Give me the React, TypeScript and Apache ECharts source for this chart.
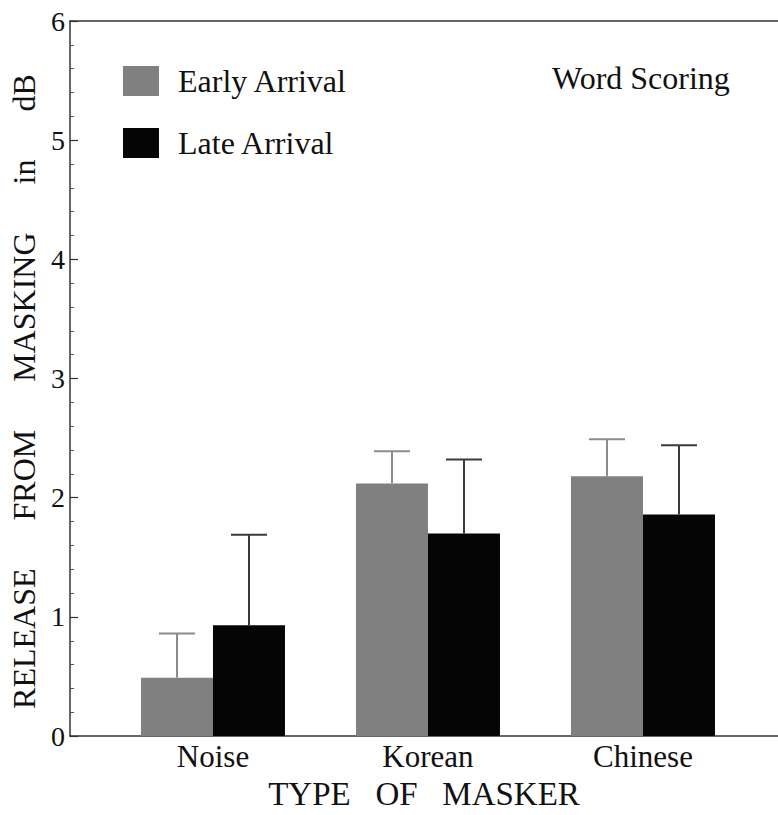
import React, { useEffect, useRef } from "react";
import * as echarts from "echarts";

const categories = ["Noise", "Korean", "Chinese"];
const categoryPositions = [1, 2, 3];
const earlyMeans = [0.49, 2.12, 2.18];
const earlyErrors = [0.37, 0.27, 0.31];
const lateMeans = [0.93, 1.7, 1.86];
const lateErrors = [0.76, 0.62, 0.58];
const yTicks = [0, 1, 2, 3, 4, 5, 6];

const FONT = "Liberation Serif";
const BAR_W = 72;
const CAP_W = 36;

export default function App() {
  const ref = useRef<HTMLDivElement>(null);
  useEffect(() => {
    document.body.style.margin = "0";
    if (!ref.current) return;
    const chart = echarts.init(ref.current, undefined, { renderer: "svg" });

    const errSeries = (name: string, means: number[], errs: number[], side: number, color: string) => ({
      type: "custom",
      name: name + " error",
      z: 5,
      silent: true,
      data: categoryPositions.map((p, i) => [p, means[i], means[i] + errs[i]]),
      renderItem: (params: any, api: any) => {
        const x = api.value(0);
        const bottom = api.coord([x, api.value(1)]);
        const top = api.coord([x, api.value(2)]);
        const cx = bottom[0] + side * (BAR_W / 2);
        return {
          type: "group",
          children: [
            {
              type: "line",
              shape: { x1: cx, y1: bottom[1], x2: cx, y2: top[1] },
              style: { stroke: color, lineWidth: 2 },
            },
            {
              type: "line",
              shape: { x1: cx - CAP_W / 2, y1: top[1], x2: cx + CAP_W / 2, y2: top[1] },
              style: { stroke: color, lineWidth: 2 },
            },
          ],
        };
      },
    });

    chart.setOption({
      animation: false,
      backgroundColor: "#ffffff",
      grid: { left: 70, right: 0, top: 21, bottom: 78, containLabel: false },
      legend: {
        orient: "vertical",
        left: 123,
        top: 65,
        padding: 0,
        itemWidth: 36,
        itemHeight: 30,
        itemGap: 30,
        icon: "rect",
        selectedMode: false,
        data: ["Early Arrival", "Late Arrival"],
        textStyle: { fontFamily: FONT, fontSize: 32, color: "#111", padding: [6, 0, 0, 14] },
      },
      graphic: [
        {
          type: "text",
          left: 552,
          top: 62,
          style: { text: "Word Scoring", font: `32px "${FONT}"`, fill: "#111" },
        },
      ],
      xAxis: [
        {
          type: "value",
          min: 0.335,
          max: 3.628,
          splitLine: { show: false },
          axisTick: { show: false },
          axisLine: { show: true, onZero: false, lineStyle: { color: "#333", width: 1.5 } },
          axisLabel: {
            customValues: categoryPositions,
            formatter: (v: number) => categories[categoryPositions.indexOf(v)] ?? "",
            fontFamily: FONT,
            fontSize: 31,
            color: "#111",
            margin: 5,
          },
          name: "TYPE   OF   MASKER",
          nameLocation: "middle",
          nameGap: 40,
          nameTextStyle: { fontFamily: FONT, fontSize: 33, color: "#111" },
        },
        {
          type: "value",
          position: "top",
          min: 0.335,
          max: 3.628,
          splitLine: { show: false },
          axisTick: { show: false },
          axisLabel: { show: false },
          axisLine: { show: true, onZero: false, lineStyle: { color: "#333", width: 1.5 } },
        },
      ],
      yAxis: {
        type: "value",
        min: yTicks[0],
        max: yTicks[yTicks.length - 1],
        interval: 1,
        splitLine: { show: false },
        axisLine: { show: true, lineStyle: { color: "#333", width: 1.5 } },
        axisTick: { show: true, inside: true, length: 8, lineStyle: { color: "#333", width: 1.2 } },
        minorTick: { show: true, splitNumber: 5, length: 4, lineStyle: { color: "#555", width: 1 } },
        axisLabel: { fontFamily: FONT, fontSize: 28, color: "#111", margin: 5 },
        name: "RELEASE      FROM      MASKING      in      dB",
        nameLocation: "middle",
        nameRotate: 90,
        nameGap: 28,
        nameTextStyle: { fontFamily: FONT, fontSize: 32, color: "#111", padding: [0, 26, 0, 0] },
      },
      series: [
        {
          type: "bar",
          name: "Early Arrival",
          barWidth: BAR_W,
          barGap: "0%",
          itemStyle: { color: "#808080" },
          data: categoryPositions.map((p, i) => [p, earlyMeans[i]]),
        },
        {
          type: "bar",
          name: "Late Arrival",
          barWidth: BAR_W,
          barGap: "0%",
          itemStyle: { color: "#050505" },
          data: categoryPositions.map((p, i) => [p, lateMeans[i]]),
        },
        errSeries("Early Arrival", earlyMeans, earlyErrors, -1, "#8c8c8c"),
        errSeries("Late Arrival", lateMeans, lateErrors, 1, "#3a3a3a"),
      ],
    });
    return () => chart.dispose();
  }, []);
  return <div ref={ref} style={{ width: 778, height: 815 }} />;
}
